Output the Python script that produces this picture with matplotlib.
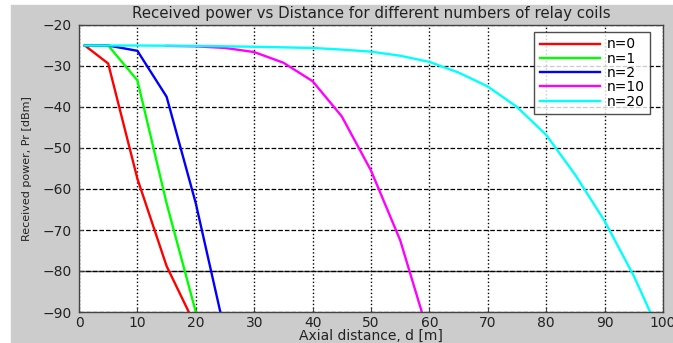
import matplotlib
matplotlib.use("Agg")
from matplotlib import pyplot as plt
import matplotlib.patches as mpatches

# n = 0 relay coils
d_n0 = [1, 5, 10, 15, 18.8]
p_n0 = [-25, -29.4, -57.5, -78.8, -90]

# n = 1
d_n1 = [1, 5, 10, 15, 20]
p_n1 = [-25, -25, -33.5, -63.5, -90]

# n = 2
d_n2 = [1, 5, 10, 15, 20, 24.2]
p_n2 = [-25, -25, -26.3, -37.5, -63.5, -90]

# n = 10
d_n10 = [15, 20, 25, 30, 35, 40, 45, 50, 55, 58.7]
p_n10 = [-25.1, -25.2, -25.6, -26.6, -29.2, -33.7, -42.3, -55.5, -72.5, -90]

# n = 20
d_n20 = [1, 10, 20, 30, 40, 45, 50, 55, 60, 65, 70, 75, 80, 85, 90, 95, 97.8]
p_n20 = [-25, -25, -25.1, -25.3, -25.6, -26, -26.5, -27.5, -29, -31.6,
         -35, -40, -46.8, -56.6, -67.8, -81.2, -90]

series = [
    (d_n0, p_n0, 'red', 'n=0'),
    (d_n1, p_n1, '#00ff00', 'n=1'),
    (d_n2, p_n2, 'blue', 'n=2'),
    (d_n10, p_n10, 'magenta', 'n=10'),
    (d_n20, p_n20, 'cyan', 'n=20'),
]

plt.rcParams['font.family'] = 'DejaVu Sans'

fig = plt.figure(figsize=(6.73, 3.43), dpi=100)
fig.patch.set_facecolor('white')
# gray window area, as in the MATLAB figure
fig.patches.append(mpatches.Rectangle((11 / 673, 0), 1, 1 - 5 / 343,
                                      transform=fig.transFigure,
                                      color='#cccccc', zorder=-10))

ax = fig.add_axes([79 / 673, 1 - 312 / 343, 584 / 673, 287 / 343])
ax.set_facecolor('white')

for d, p, c, lab in series:
    ax.plot(d, p, color=c, linewidth=1.7, label=lab)

ax.set_xlim(0, 100)
ax.set_ylim(-90, -20)
ax.set_xticks(range(0, 101, 10))
ax.set_yticks(range(-90, -19, 10))

ax.xaxis.grid(True, linestyle=':', color='black', linewidth=1.0)
ax.yaxis.grid(True, linestyle='--', color='black', linewidth=0.9)
ax.axhline(-80, color='#555555', linewidth=1.0, zorder=0.5)
ax.set_axisbelow(True)

for s in ax.spines.values():
    s.set_color('#444444')
    s.set_linewidth(1.0)
ax.tick_params(direction='in', length=3, colors='#444444',
               labelcolor='#222222', labelsize=10, pad=3)
ax.tick_params(axis='y', pad=5)

ax.set_title("Received power vs Distance for different numbers of relay coils",
             fontsize=10.8, color='#222222', pad=5)
ax.set_xlabel("Axial distance, d [m]", fontsize=10, color='#222222', labelpad=-1)
ax.set_ylabel("Received power, Pr [dBm]", fontsize=8, color='#222222', labelpad=8)

leg = ax.legend(loc='upper right', bbox_to_anchor=(0.978, 0.976),
                borderaxespad=0, fontsize=10, frameon=True, fancybox=False,
                handlelength=4.3, handletextpad=0.5, borderpad=0.4,
                labelspacing=0.02)
leg.get_frame().set_edgecolor('#222222')
leg.get_frame().set_linewidth(1.0)

fig.savefig("out.png", dpi=100, facecolor=fig.get_facecolor())
